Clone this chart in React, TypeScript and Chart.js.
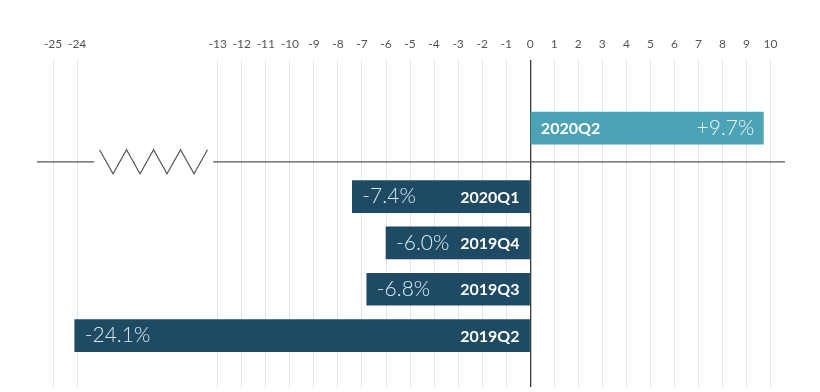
import React, { useEffect, useRef } from 'react';
import { Chart, registerables } from 'chart.js';

Chart.register(...registerables);

// ---- data ----
const QUARTERS = ['2020Q2', '2020Q1', '2019Q4', '2019Q3', '2019Q2'];
const GROWTH = [9.7, -7.4, -6.0, -6.8, -24.1];
const TICK_LABELS = [-25, -24, -13, -12, -11, -10, -9, -8, -7, -6, -5, -4, -3, -2, -1, 0, 1, 2, 3, 4, 5, 6, 7, 8, 9, 10];
const BAR_COLORS = ['#4ba3b5', '#1f4a63', '#1f4a63', '#1f4a63', '#1f4a63'];

// ---- broken axis mapping ----
const BREAK_AT = -13;
const BREAK_SHIFT = 5.15;
const toAxis = (v: number) => (v < BREAK_AT ? v + BREAK_SHIFT : v);
// first row is separated from the rest by the divider line
const rowPos = (i: number) => (i === 0 ? 0 : i + 0.48);
const DIVIDER_POS = 0.728;

const FONT = 'Lato, "Open Sans", sans-serif';

const labelPlugin = {
  id: 'barLabels',
  afterDatasetsDraw(chart: any) {
    const ctx = chart.ctx;
    const meta = chart.getDatasetMeta(0);
    meta.data.forEach((bar: any, i: number) => {
      const { x, y, base } = bar.getProps(['x', 'y', 'base'], true);
      const v = GROWTH[i];
      const valText = (v > 0 ? '+' : '') + v.toFixed(1) + '%';
      ctx.save();
      ctx.textBaseline = 'middle';
      if (v >= 0) {
        ctx.font = `bold 16px ${FONT}`;
        ctx.fillStyle = '#ffffff';
        ctx.textAlign = 'left';
        ctx.fillText(QUARTERS[i], base + 10, y + 1);
        ctx.font = `300 21px ${FONT}`;
        ctx.fillStyle = '#eef7f9';
        ctx.textAlign = 'right';
        ctx.fillText(valText, x - 9, y);
      } else {
        ctx.font = `bold 16px ${FONT}`;
        ctx.fillStyle = '#ffffff';
        ctx.textAlign = 'right';
        ctx.fillText(QUARTERS[i], base - 10, y + 1);
        ctx.font = `300 21px ${FONT}`;
        ctx.fillStyle = '#d8ecf2';
        ctx.textAlign = 'left';
        ctx.fillText(valText, x + 10, y);
      }
      ctx.restore();
    });
  },
};

const dividerPlugin = {
  id: 'divider',
  afterDatasetsDraw(chart: any) {
    const ctx = chart.ctx;
    const area = chart.chartArea;
    const yS = chart.scales.y;
    const xS = chart.scales.x;
    const yy = yS.getPixelForValue(DIVIDER_POS);
    const breakStart = xS.getPixelForValue(toAxis(-24)) + 17;
    ctx.save();
    ctx.strokeStyle = '#555555';
    ctx.lineWidth = 1.2;
    ctx.beginPath();
    ctx.moveTo(area.left, yy);
    ctx.lineTo(breakStart, yy);
    const zx = breakStart + 5.4;
    const step = 13.5;
    const amp = 12;
    ctx.moveTo(zx, yy - amp);
    for (let k = 1; k <= 8; k++) {
      ctx.lineTo(zx + k * step, k % 2 === 1 ? yy + amp : yy - amp);
    }
    ctx.moveTo(zx + 8 * step + 5.6, yy);
    ctx.lineTo(area.right, yy);
    ctx.stroke();
    ctx.restore();
  },
};

export default function App() {
  const ref = useRef<HTMLCanvasElement>(null);
  useEffect(() => {
    const chart = new Chart(ref.current as HTMLCanvasElement, {
      type: 'bar',
      data: {
        datasets: [
          {
            data: GROWTH.map((v, i) => ({ x: toAxis(v), y: rowPos(i) })) as any,
            backgroundColor: BAR_COLORS,
            borderWidth: 0,
            barThickness: 32,
          },
        ],
      },
      options: {
        indexAxis: 'y',
        animation: false,
        responsive: true,
        maintainAspectRatio: false,
        layout: { padding: { left: 37, right: 35, top: 0, bottom: 5 } },
        plugins: { legend: { display: false }, tooltip: { enabled: false } },
        scales: {
          x: {
            type: 'linear',
            position: 'top',
            min: -20.52,
            max: 10.6,
            afterBuildTicks: (s: any) => {
              s.ticks = TICK_LABELS.map((v) => ({ value: toAxis(v) }));
            },
            afterFit: (s: any) => {
              s.height = 60;
            },
            ticks: {
              autoSkip: false,
              maxRotation: 0,
              padding: 9,
              color: '#555555',
              font: { family: FONT, size: 12 },
              callback: (_v: any, idx: number) => String(TICK_LABELS[idx]),
            },
            grid: {
              drawTicks: false,
              color: (c: any) => (c.tick && c.tick.value === 0 ? '#3a3a3a' : '#e4e6e6'),
              lineWidth: (c: any) => (c.tick && c.tick.value === 0 ? 1.3 : 1),
            },
            border: { display: false },
          },
          y: {
            type: 'linear',
            display: false,
            reverse: true,
            offset: false,
            grace: 0,
            min: -1.47,
            max: 5.59,
          },
        },
      },
      plugins: [labelPlugin, dividerPlugin],
    } as any);
    return () => chart.destroy();
  }, []);
  return (
    <div style={{ position: 'fixed', left: 0, top: 0, width: 820, height: 392, background: '#ffffff' }}>
      <canvas ref={ref} />
    </div>
  );
}
